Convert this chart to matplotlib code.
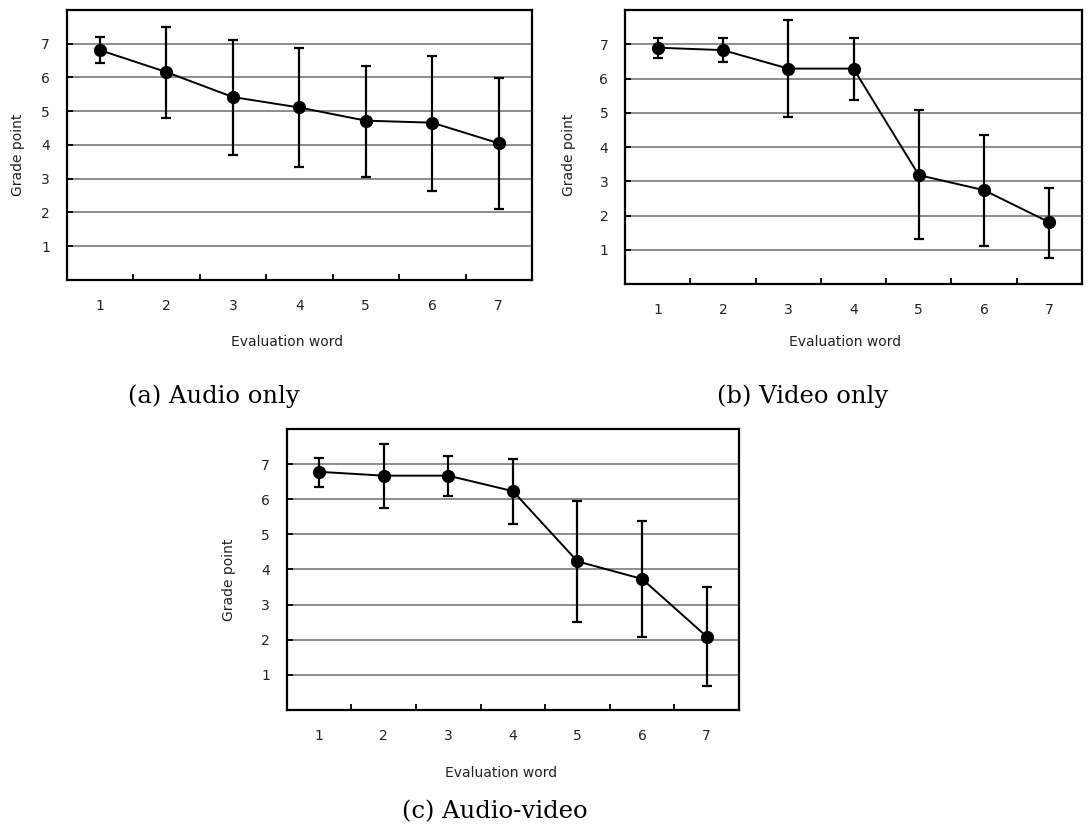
import matplotlib
matplotlib.use("Agg")
import matplotlib.pyplot as plt
import numpy as np

# evaluation words 1..7
words = [1, 2, 3, 4, 5, 6, 7]

# (a) audio only: mean and error bar ends
audio_mean = [6.81, 6.16, 5.42, 5.11, 4.72, 4.66, 4.05]
audio_hi = [7.21, 7.50, 7.11, 6.86, 6.34, 6.64, 5.99]
audio_lo = [6.42, 4.81, 3.70, 3.36, 3.04, 2.65, 2.09]

# (b) video only
video_mean = [6.90, 6.83, 6.29, 6.29, 3.18, 2.74, 1.80]
video_hi = [7.18, 7.18, 7.71, 7.18, 5.08, 4.34, 2.80]
video_lo = [6.59, 6.49, 4.87, 5.37, 1.31, 1.12, 0.75]

# (c) audio-video
av_mean = [6.78, 6.67, 6.67, 6.23, 4.23, 3.73, 2.09]
av_hi = [7.16, 7.57, 7.24, 7.14, 5.96, 5.37, 3.51]
av_lo = [6.36, 5.74, 6.09, 5.30, 2.51, 2.07, 0.69]

captions = ["(a) Audio only", "(b) Video only", "(c) Audio-video"]


def panel(ax, mean, hi, lo, ylab_xy, xlab_xy):
    mean = np.array(mean)
    err = [mean - np.array(lo), np.array(hi) - mean]
    for v in range(1, 8):
        ax.axhline(v, color="#8c8c8c", lw=1.4, zorder=1)
    ax.errorbar(words, mean, yerr=err, fmt="-o", color="black", lw=1.4,
                elinewidth=1.6, capsize=3.5, capthick=1.6, markersize=8.5,
                zorder=3)
    ax.set_xlim(0.5, 7.5)
    ax.set_ylim(0, 8)
    ax.set_yticks(range(1, 8))
    # ticks sit between the categories, labels in the middle
    ax.set_xticks(np.arange(1.5, 7.5, 1))
    ax.set_xticklabels([])
    ax.set_xticks(words, minor=True)
    ax.set_xticklabels([str(w) for w in words], minor=True)
    ax.tick_params(axis="x", which="major", direction="in", length=4,
                   width=1.3)
    ax.tick_params(axis="x", which="minor", length=0, pad=14,
                   labelsize=10, labelcolor="#222222")
    ax.tick_params(axis="y", direction="in", length=4, width=1.3, pad=12,
                   labelsize=10, labelcolor="#222222")
    for s in ax.spines.values():
        s.set_linewidth(1.6)
    ax.set_ylabel("Grade point", fontsize=10, color="#222222",
                  ha="center", va="center")
    ax.yaxis.set_label_coords(*ylab_xy)
    ax.set_xlabel("Evaluation word", fontsize=10, color="#222222",
                  ha="center", va="center")
    ax.xaxis.set_label_coords(*xlab_xy)


fig = plt.figure(figsize=(10.89, 8.30), dpi=100)

ax1 = fig.add_axes([0.0612, 0.6627, 0.4273, 0.3253])
panel(ax1, audio_mean, audio_hi, audio_lo, (-0.1047, 0.463), (0.473, -0.23))

ax2 = fig.add_axes([0.5739, 0.6578, 0.4197, 0.3301])
panel(ax2, video_mean, video_hi, video_lo, (-0.1225, 0.471), (0.481, -0.212))

ax3 = fig.add_axes([0.2633, 0.1446, 0.4153, 0.3386])
panel(ax3, av_mean, av_hi, av_lo, (-0.1277, 0.463), (0.474, -0.224))

fig.text(214 / 1089, 1 - 396 / 830, captions[0], fontsize=17.5,
         family="DejaVu Serif", ha="center", va="center")
fig.text(803 / 1089, 1 - 396 / 830, captions[1], fontsize=17.5,
         family="DejaVu Serif", ha="center", va="center")
fig.text(495 / 1089, 1 - 812 / 830, captions[2], fontsize=17.5,
         family="DejaVu Serif", ha="center", va="center")

fig.savefig("out.png", dpi=100)
